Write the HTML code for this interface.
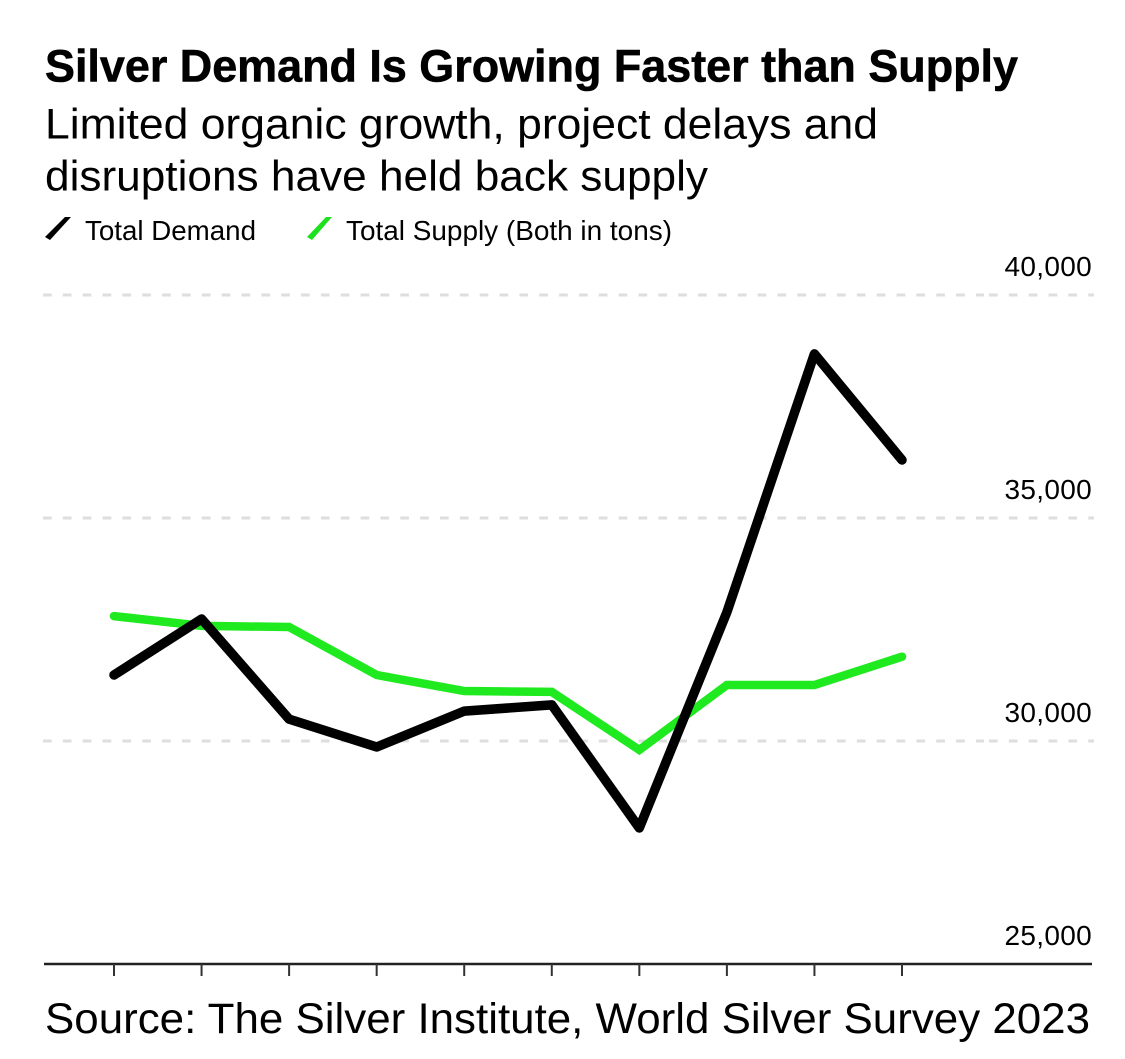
<!DOCTYPE html>
<html lang="en">
<head>
<meta charset="utf-8">
<title>Silver Demand Is Growing Faster than Supply</title>
<style>
  html, body { margin: 0; padding: 0; background: #fff; }
  body { width: 1125px; height: 1059px; overflow: hidden; }
  svg { display: block; }
  text { font-family: "Liberation Sans", Arial, sans-serif; fill: #000; }
</style>
</head>
<body>
<svg id="chart" width="1125" height="1059" viewBox="0 0 1125 1059" xmlns="http://www.w3.org/2000/svg">
  <text x="45" y="81.5" font-size="45.5" font-weight="700" stroke="#000" stroke-width="0.6" textLength="973" lengthAdjust="spacingAndGlyphs">Silver Demand Is Growing Faster than Supply</text>
  <text x="45" y="138.7" font-size="43" textLength="833" lengthAdjust="spacingAndGlyphs">Limited organic growth, project delays and</text>
  <text x="45" y="190.5" font-size="43" textLength="663" lengthAdjust="spacingAndGlyphs">disruptions have held back supply</text>

  <g>
    <polygon points="65,217 71,217 50,240 45,237" fill="#000"></polygon>
    <text x="85" y="240" font-size="28" textLength="171" lengthAdjust="spacingAndGlyphs">Total Demand</text>
  </g>
  <g>
    <polygon points="326,217 332,217 312,240 307,237" fill="#1fe01f"></polygon>
    <text x="346" y="240" font-size="28" textLength="326" lengthAdjust="spacingAndGlyphs">Total Supply (Both in tons)</text>
  </g>

  <g id="grid"></g>
  <g id="ticks"></g>
  <g id="series"></g>

  <text x="45" y="1033" font-size="43" textLength="1045" lengthAdjust="spacingAndGlyphs">Source: The Silver Institute, World Silver Survey 2023</text>
</svg>
<script>
const categories = ['2013', '2014', '2015', '2016', '2017', '2018', '2019', '2020', '2021', '2022'];
const totalDemand = [31480, 32735, 30490, 29865, 30670, 30810, 28050, 32890, 38680, 36300];
const totalSupply = [32800, 32580, 32555, 31480, 31120, 31100, 29800, 31255, 31255, 31890];
const yTickValues = [25000, 30000, 35000, 40000];
const yTickLabels = ['25,000', '30,000', '35,000', '40,000'];

const NS = 'http://www.w3.org/2000/svg';
function xScale(i) {
  return 114 + i * (902 - 114) / (categories.length - 1);
}
function yScale(v) {
  return 964 - (v - 25000) * (964 - 295) / (40000 - 25000);
}
function make(tag, attrs, parent) {
  const el = document.createElementNS(NS, tag);
  for (const k in attrs) el.setAttribute(k, attrs[k]);
  parent.appendChild(el);
  return el;
}

const grid = document.getElementById('grid');
const ticks = document.getElementById('ticks');
const series = document.getElementById('series');

yTickValues.forEach(function (v, i) {
  const y = yScale(v);
  if (v > yTickValues[0]) {
    const gl = make('path', { d: 'M43 ' + y + 'H984M989 ' + y + 'H1094', fill: 'none', stroke: '#dedede', 'stroke-width': 3, 'stroke-dasharray': '8.7 11.15' }, grid);
    
    
  }
  const label = make('text', { x: 1092, y: y - 19, 'font-size': 28, 'text-anchor': 'end', 'letter-spacing': 0.3 }, grid);
  label.textContent = yTickLabels[i];
  
  
});

const axis = make('line', { x1: 44, x2: 1092, y1: yScale(25000), y2: yScale(25000), stroke: '#222', 'stroke-width': 2.5 }, ticks);



categories.forEach(function (c, i) {
  const t = make('line', { x1: xScale(i), x2: xScale(i), y1: yScale(25000), y2: yScale(25000) + 12, stroke: '#333', 'stroke-width': 2 }, ticks);
  
  
});

function linePoints(values) {
  return values.map(function (v, i) { return xScale(i).toFixed(1) + ',' + yScale(v).toFixed(1); }).join(' ');
}

const supplyLine = make('polyline', { points: linePoints(totalSupply), fill: 'none', stroke: '#1fe91f', 'stroke-width': 8.5, 'stroke-linecap': 'round', 'stroke-linejoin': 'miter' }, series);



const demandLine = make('polyline', { points: linePoints(totalDemand), fill: 'none', stroke: '#000', 'stroke-width': 9.5, 'stroke-linecap': 'round', 'stroke-linejoin': 'round' }, series);


</script>
</body>
</html>
